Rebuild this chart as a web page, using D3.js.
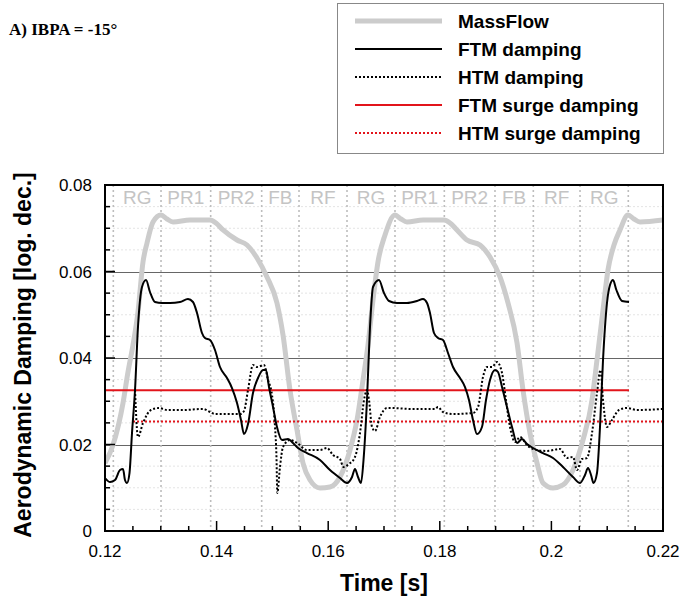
<!DOCTYPE html>
<html>
<head>
<meta charset="utf-8">
<script src="https://cdn.jsdelivr.net/npm/d3@7"></script>
<style>
  html, body { margin: 0; padding: 0; background: #fff; }
  svg { display: block; }
</style>
</head>
<body>
<div id="chart"></div>
<script>
// values: [time s, damping log. dec.]
const massFlow = [
  [0.12000, 0.01572], [0.12143, 0.01988], [0.12323, 0.02960], [0.12412, 0.03676], [0.12502, 0.04301],
  [0.12591, 0.05064], [0.12681, 0.06220], [0.12753, 0.06659], [0.12860, 0.07145], [0.13004, 0.07306],
  [0.13111, 0.07214], [0.13219, 0.07145], [0.13523, 0.07191], [0.13882, 0.07191], [0.13989, 0.07121],
  [0.14115, 0.06960], [0.14366, 0.06728], [0.14545, 0.06613], [0.14724, 0.06312], [0.14903, 0.05873],
  [0.15082, 0.05272], [0.15190, 0.04532], [0.15315, 0.03260], [0.15441, 0.02335], [0.15548, 0.01572],
  [0.15674, 0.01179], [0.15853, 0.00994], [0.16032, 0.01017], [0.16211, 0.01249], [0.16391, 0.01873],
  [0.16516, 0.02566], [0.16624, 0.03491], [0.16713, 0.04301], [0.16803, 0.05341], [0.16892, 0.06220],
  [0.17018, 0.06844], [0.17197, 0.07306], [0.17305, 0.07214], [0.17412, 0.07145], [0.17699, 0.07191],
  [0.18075, 0.07191], [0.18183, 0.07121], [0.18308, 0.06960], [0.18487, 0.06728], [0.18720, 0.06613],
  [0.18900, 0.06335], [0.19079, 0.05873], [0.19222, 0.05272], [0.19384, 0.04347], [0.19491, 0.03260],
  [0.19616, 0.02266], [0.19742, 0.01572], [0.19849, 0.01110], [0.20029, 0.00994], [0.20208, 0.01064],
  [0.20387, 0.01410], [0.20566, 0.02104], [0.20728, 0.03029], [0.20817, 0.03954], [0.20925, 0.05110],
  [0.21014, 0.06035], [0.21122, 0.06613], [0.21229, 0.06960], [0.21373, 0.07306], [0.21480, 0.07214],
  [0.21588, 0.07145], [0.22000, 0.07191]
];

const ftmDamping = [
  [0.12000, 0.01225], [0.12090, 0.01133], [0.12179, 0.01179], [0.12269, 0.01410], [0.12323, 0.01434],
  [0.12358, 0.01179], [0.12394, 0.01110], [0.12439, 0.01341], [0.12484, 0.02266], [0.12538, 0.03260],
  [0.12591, 0.04717], [0.12663, 0.05642], [0.12735, 0.05803], [0.12806, 0.05526], [0.12896, 0.05295],
  [0.13022, 0.05272], [0.13165, 0.05272], [0.13344, 0.05295], [0.13487, 0.05364], [0.13577, 0.05295],
  [0.13649, 0.05040], [0.13738, 0.04578], [0.13792, 0.04462], [0.13882, 0.04416], [0.13971, 0.04185],
  [0.14061, 0.03792], [0.14186, 0.03538], [0.14276, 0.03306], [0.14366, 0.02960], [0.14437, 0.02566],
  [0.14491, 0.02243], [0.14563, 0.02474], [0.14652, 0.03191], [0.14742, 0.03538], [0.14832, 0.03723],
  [0.14885, 0.03723], [0.14939, 0.03329], [0.15011, 0.02867], [0.15082, 0.02405], [0.15172, 0.02104],
  [0.15280, 0.02127], [0.15369, 0.02035], [0.15459, 0.01919], [0.15620, 0.01803], [0.15853, 0.01642],
  [0.16032, 0.01410], [0.16211, 0.01225], [0.16337, 0.01110], [0.16427, 0.01249], [0.16480, 0.01434],
  [0.16534, 0.01249], [0.16588, 0.01110], [0.16633, 0.01642], [0.16695, 0.03029], [0.16749, 0.04717],
  [0.16803, 0.05642], [0.16910, 0.05803], [0.16999, 0.05503], [0.17090, 0.05318], [0.17233, 0.05272],
  [0.17412, 0.05272], [0.17591, 0.05318], [0.17699, 0.05364], [0.17771, 0.05272], [0.17824, 0.05040],
  [0.17896, 0.04578], [0.17968, 0.04462], [0.18057, 0.04416], [0.18147, 0.04116], [0.18237, 0.03792],
  [0.18362, 0.03538], [0.18452, 0.03329], [0.18523, 0.03029], [0.18595, 0.02566], [0.18667, 0.02243],
  [0.18756, 0.02405], [0.18828, 0.03029], [0.18900, 0.03491], [0.18989, 0.03723], [0.19043, 0.03676],
  [0.19115, 0.03329], [0.19204, 0.02867], [0.19294, 0.02405], [0.19384, 0.02035], [0.19473, 0.02127],
  [0.19563, 0.02012], [0.19670, 0.01919], [0.19849, 0.01803], [0.20029, 0.01688], [0.20208, 0.01480],
  [0.20387, 0.01249], [0.20513, 0.01110], [0.20602, 0.01295], [0.20656, 0.01457], [0.20710, 0.01295],
  [0.20754, 0.01110], [0.20817, 0.01341], [0.20871, 0.02405], [0.20925, 0.03954], [0.20996, 0.05272],
  [0.21050, 0.05688], [0.21104, 0.05803], [0.21165, 0.05572], [0.21265, 0.05318], [0.21391, 0.05295]
];

const htmDamping = [
  [0.12538, 0.03260], [0.12591, 0.02173], [0.12681, 0.02497], [0.12824, 0.02798], [0.12968, 0.02844],
  [0.13111, 0.02798], [0.13398, 0.02798], [0.13756, 0.02821], [0.13882, 0.02751], [0.13971, 0.02705],
  [0.14115, 0.02705], [0.14419, 0.02705], [0.14491, 0.02775], [0.14563, 0.03260], [0.14652, 0.03838],
  [0.14724, 0.03792], [0.14849, 0.03838], [0.14921, 0.03491], [0.14993, 0.03145], [0.15047, 0.02405],
  [0.15073, 0.01711], [0.15088, 0.00879], [0.15136, 0.01480], [0.15190, 0.01942], [0.15315, 0.02104],
  [0.15441, 0.02035], [0.15620, 0.01873], [0.15853, 0.01873], [0.15978, 0.01919], [0.16086, 0.01757],
  [0.16211, 0.01665], [0.16274, 0.01480], [0.16373, 0.01549], [0.16480, 0.01711], [0.16570, 0.02266],
  [0.16642, 0.03029], [0.16695, 0.03260], [0.16731, 0.03029], [0.16785, 0.02405], [0.16839, 0.02312],
  [0.16928, 0.02636], [0.17054, 0.02844], [0.17108, 0.02844], [0.17520, 0.02821], [0.17914, 0.02821],
  [0.17968, 0.02867], [0.18057, 0.02751], [0.18237, 0.02705], [0.18595, 0.02728], [0.18685, 0.02867],
  [0.18774, 0.03561], [0.18846, 0.03792], [0.18936, 0.03792], [0.19025, 0.03908], [0.19115, 0.03653],
  [0.19186, 0.03029], [0.19258, 0.02405], [0.19348, 0.02058], [0.19437, 0.02173], [0.19563, 0.01988],
  [0.19670, 0.01896], [0.19921, 0.01850], [0.20154, 0.01896], [0.20280, 0.01688], [0.20387, 0.01711],
  [0.20459, 0.01410], [0.20548, 0.01665], [0.20638, 0.01688], [0.20728, 0.02266], [0.20817, 0.03191],
  [0.20880, 0.03723], [0.20925, 0.03029], [0.20996, 0.02405], [0.21086, 0.02566], [0.21212, 0.02798],
  [0.21355, 0.02844], [0.21534, 0.02798], [0.22000, 0.02821]
];

// surge damping levels with the time span they are drawn over
const ftmSurge = [[0.12000, 0.03253], [0.21391, 0.03253]];
const htmSurge = [[0.12502, 0.02530], [0.22000, 0.02530]];

// operating phases (dotted separators) and their labels
const phaseBounds = [0.12149, 0.13004, 0.13894, 0.14808, 0.15477, 0.16337,
                     0.17197, 0.18081, 0.18989, 0.19676, 0.20513, 0.21378];
const phaseLabels = ['RG', 'PR1', 'PR2', 'FB', 'RF', 'RG', 'PR1', 'PR2', 'FB', 'RF', 'RG'];

const xTicks = [0.12, 0.14, 0.16, 0.18, 0.2, 0.22];
const yTicks = [0, 0.02, 0.04, 0.06, 0.08];

const legendItems = [
  { label: 'MassFlow', color: '#cccccc', width: 5, dash: null },
  { label: 'FTM damping', color: '#000', width: 2, dash: null },
  { label: 'HTM damping', color: '#000', width: 2, dash: '2,2' },
  { label: 'FTM surge damping', color: '#e2141b', width: 2, dash: null },
  { label: 'HTM surge damping', color: '#e2141b', width: 2, dash: '2,2' },
];

const W = 684, H = 598;
const margin = { top: 185, right: 21, bottom: 67, left: 105 };
const iw = W - margin.left - margin.right;
const ih = H - margin.top - margin.bottom;
const SANS = "'Liberation Sans', Arial, Helvetica, sans-serif";

const svg = d3.select('#chart').append('svg')
  .attr('width', W).attr('height', H)
  .style('font-family', SANS);

const x = d3.scaleLinear().domain([0.12, 0.22]).range([0, iw]);
const y = d3.scaleLinear().domain([0, 0.08]).range([ih, 0]);

const g = svg.append('g').attr('transform', `translate(${margin.left},${margin.top})`);

svg.append('defs').append('clipPath').attr('id', 'plotClip')
  .append('rect').attr('width', iw).attr('height', ih);

const isMajor = d => Math.abs(d / 0.02 - Math.round(d / 0.02)) < 1e-6;

// faint minor grid
const minorY = d3.range(0.005, 0.08, 0.005).filter(v => !isMajor(v));
g.append('g').selectAll('line').data(minorY).join('line')
  .attr('x1', 0).attr('x2', iw)
  .attr('y1', d => y(d)).attr('y2', d => y(d))
  .attr('stroke', '#e4e4e4').attr('stroke-width', 1).attr('stroke-dasharray', '2,2');

// major grid
g.append('g').selectAll('line').data(yTicks.filter(v => v > 0 && v < 0.08)).join('line')
  .attr('x1', 0).attr('x2', iw)
  .attr('y1', d => Math.round(y(d)) + 0.5).attr('y2', d => Math.round(y(d)) + 0.5)
  .attr('stroke', '#666').attr('stroke-width', 1);

// phase separators
g.append('g').selectAll('line').data(phaseBounds).join('line')
  .attr('x1', d => x(d)).attr('x2', d => x(d))
  .attr('y1', 0).attr('y2', ih)
  .attr('stroke', '#bdbdbd').attr('stroke-width', 1.6).attr('stroke-dasharray', '2,3');

// phase labels
g.append('g').selectAll('text').data(phaseLabels).join('text')
  .attr('x', (d, i) => (x(phaseBounds[i]) + x(phaseBounds[i + 1])) / 2)
  .attr('y', 19)
  .attr('text-anchor', 'middle')
  .style('font-size', '19px')
  .style('fill', '#c4c4c4')
  .text(d => d);

const line = d3.line().x(d => x(d[0])).y(d => y(d[1])).curve(d3.curveMonotoneX);
const plot = g.append('g').attr('clip-path', 'url(#plotClip)');

const drawSeries = (data, item) => {
  plot.append('path').datum(data)
    .attr('d', line)
    .attr('fill', 'none')
    .attr('stroke', item.color)
    .attr('stroke-width', item.width)
    .attr('stroke-linejoin', 'round')
    .attr('stroke-dasharray', item.dash);
};

drawSeries(massFlow, legendItems[0]);
drawSeries(htmSurge, legendItems[4]);
drawSeries(ftmSurge, legendItems[3]);
drawSeries(htmDamping, legendItems[2]);
drawSeries(ftmDamping, legendItems[1]);

// frame
g.append('rect').attr('width', iw).attr('height', ih)
  .attr('fill', 'none').attr('stroke', '#000').attr('stroke-width', 2);

// ticks (inward)
const xMinor = d3.range(0.125, 0.22, 0.005);
g.append('g').selectAll('line').data(xMinor).join('line')
  .attr('x1', d => x(d)).attr('x2', d => x(d))
  .attr('y1', ih).attr('y2', d => ih - (isMajor(d) ? 10 : 5))
  .attr('stroke', '#000').attr('stroke-width', 1.5);

const yMinor = d3.range(0.005, 0.08, 0.005);
g.append('g').selectAll('line').data(yMinor).join('line')
  .attr('y1', d => y(d)).attr('y2', d => y(d))
  .attr('x1', 0).attr('x2', d => (isMajor(d) ? 10 : 5))
  .attr('stroke', '#000').attr('stroke-width', 1.5);

// tick labels
g.append('g').selectAll('text').data(xTicks).join('text')
  .attr('x', d => x(d)).attr('y', ih + 26)
  .attr('text-anchor', 'middle')
  .style('font-size', '17px')
  .text(d => String(d));

g.append('g').selectAll('text').data(yTicks).join('text')
  .attr('x', -13).attr('y', d => y(d) + 6)
  .attr('text-anchor', 'end')
  .style('font-size', '17px')
  .text(d => String(d));

// axis titles
svg.append('text')
  .attr('x', margin.left + iw / 2).attr('y', 591)
  .attr('text-anchor', 'middle')
  .style('font-size', '23px').style('font-weight', 'bold')
  .text('Time [s]');

svg.append('text')
  .attr('transform', `translate(31,${margin.top + ih / 2 - 3}) rotate(-90)`)
  .attr('text-anchor', 'middle')
  .style('font-size', '23px').style('font-weight', 'bold')
  .text('Aerodynamic Damping [log. dec.]');

// panel title
svg.append('text')
  .attr('x', 9).attr('y', 35)
  .style('font-family', "'Liberation Serif', 'Times New Roman', serif")
  .style('font-size', '17px').style('font-weight', 'bold')
  .text('A) IBPA = -15\u00b0');

// legend
const lg = svg.append('g').attr('transform', 'translate(337,3)');
lg.append('rect').attr('x', 0.5).attr('y', 0.5).attr('width', 326).attr('height', 150)
  .attr('fill', '#fff').attr('stroke', '#888').attr('stroke-width', 1);

const rows = lg.selectAll('g.row').data(legendItems).join('g')
  .attr('class', 'row')
  .attr('transform', (d, i) => `translate(0,${18 + i * 28})`);

rows.append('line')
  .attr('x1', 18).attr('x2', 105).attr('y1', 0).attr('y2', 0)
  .attr('stroke', d => d.color)
  .attr('stroke-width', d => d.width)
  .attr('stroke-dasharray', d => d.dash);

rows.append('text')
  .attr('x', 121).attr('y', 7)
  .style('font-size', '19px').style('font-weight', 'bold')
  .text(d => d.label);
</script>
</body>
</html>
